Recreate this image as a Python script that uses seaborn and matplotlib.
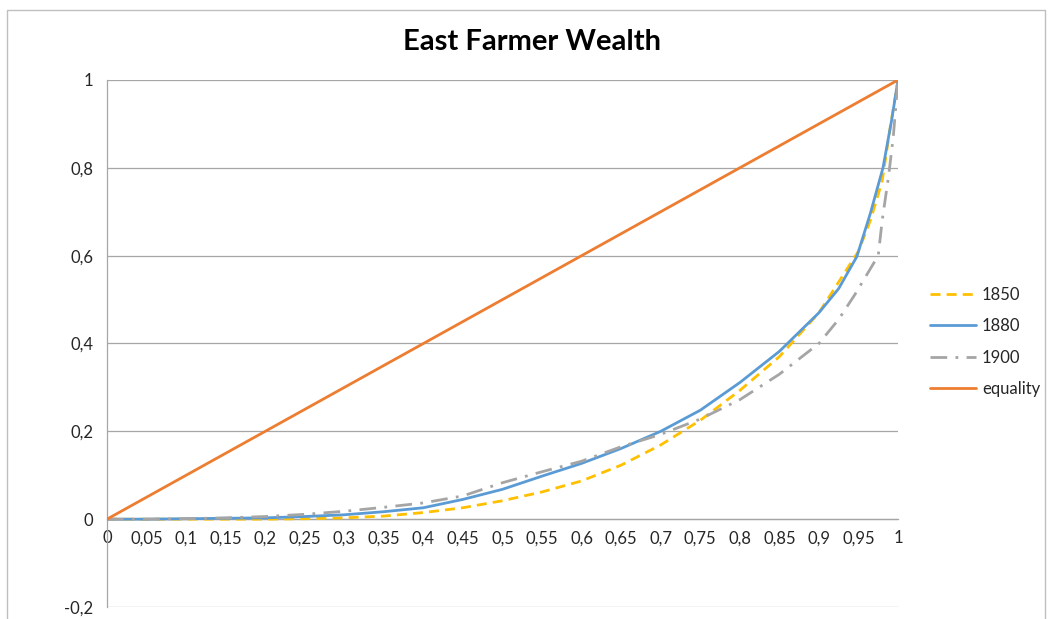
import matplotlib
matplotlib.use("Agg")
import matplotlib.pyplot as plt
import seaborn as sns
import pandas as pd
from matplotlib.patches import Rectangle

# ---- data ----
x_1850 = [0, 0.05, 0.1, 0.15, 0.2, 0.25, 0.3, 0.35, 0.4, 0.45, 0.5, 0.55, 0.6, 0.65,
          0.7, 0.75, 0.8, 0.85, 0.9, 0.925, 0.95, 0.965, 0.98, 0.99, 1.0]
y_1850 = [0, 0, 0, 0, 0, 0.001, 0.003, 0.007, 0.015, 0.026, 0.042, 0.062, 0.087, 0.123,
          0.169, 0.225, 0.293, 0.37, 0.47, 0.54, 0.61, 0.68, 0.77, 0.89, 1.0]

x_1880 = [0, 0.05, 0.1, 0.15, 0.2, 0.25, 0.3, 0.35, 0.4, 0.45, 0.5, 0.55, 0.6, 0.65,
          0.7, 0.75, 0.8, 0.85, 0.9, 0.925, 0.948, 0.965, 0.981, 0.992, 1.0]
y_1880 = [0, 0, 0.001, 0.002, 0.003, 0.006, 0.01, 0.017, 0.026, 0.045, 0.068, 0.098, 0.127,
          0.161, 0.2, 0.248, 0.311, 0.382, 0.47, 0.525, 0.598, 0.696, 0.8, 0.909, 1.0]

x_1900 = [0, 0.05, 0.1, 0.15, 0.2, 0.25, 0.3, 0.35, 0.4, 0.45, 0.5, 0.55, 0.6, 0.65,
          0.7, 0.75, 0.8, 0.85, 0.9, 0.925, 0.945, 0.96, 0.975, 0.98, 0.988, 0.994, 1.0]
y_1900 = [0, 0, 0.001, 0.003, 0.006, 0.011, 0.018, 0.027, 0.037, 0.053, 0.083, 0.108, 0.132,
          0.165, 0.193, 0.228, 0.272, 0.33, 0.4, 0.455, 0.51, 0.555, 0.6, 0.68, 0.78, 0.87, 1.0]

x_equality = [0, 1]
y_equality = [0, 1]

series_names = ["1850", "1880", "1900", "equality"]
series_colors = ["#FFC000", "#5B9BD5", "#A5A5A5", "#ED7D31"]

xtick_values = [i * 0.05 for i in range(21)]
xtick_labels = ["0", "0,05", "0,1", "0,15", "0,2", "0,25", "0,3", "0,35", "0,4", "0,45",
                "0,5", "0,55", "0,6", "0,65", "0,7", "0,75", "0,8", "0,85", "0,9", "0,95", "1"]
ytick_values = [-0.2, 0, 0.2, 0.4, 0.6, 0.8, 1.0]
ytick_labels = ["-0,2", "0", "0,2", "0,4", "0,6", "0,8", "1"]

title = "East Farmer Wealth"

# ---- style ----
sns.set_style("white")
plt.rcParams["font.family"] = ["Lato", "DejaVu Sans"]

fig = plt.figure(figsize=(10.5, 6.19), dpi=100)
W, H = 1050, 619
ax = fig.add_axes([107 / W, 1 - 607 / H, (898 - 107) / W, (607 - 80) / H])

grid_color = "#A6A6A6"

styles = [
    dict(linestyle=(0, (3.6, 2.2)), linewidth=2.0),
    dict(linestyle="-", linewidth=2.0),
    dict(linestyle=(0, (6, 3, 1, 3)), linewidth=2.0),
    dict(linestyle="-", linewidth=2.0),
]
xs = [x_1850, x_1880, x_1900, x_equality]
ys = [y_1850, y_1880, y_1900, y_equality]

for name, color, st, xv, yv in zip(series_names, series_colors, styles, xs, ys):
    df = pd.DataFrame({"x": xv, "y": yv})
    sns.lineplot(data=df, x="x", y="y", ax=ax, color=color, label=name,
                 estimator=None, sort=False, zorder=3, **st)

ax.set_xlim(0, 1)
ax.set_ylim(-0.2, 1)
ax.set_xticks(xtick_values)
ax.set_xticklabels(xtick_labels)
ax.set_yticks(ytick_values)
ax.set_yticklabels(ytick_labels)
ax.set_xlabel("")
ax.set_ylabel("")

ax.yaxis.grid(True, color=grid_color, linewidth=0.9, zorder=0)
ax.xaxis.grid(False)
ax.set_axisbelow(True)

for s in ["top", "right"]:
    ax.spines[s].set_visible(False)
ax.spines["bottom"].set_position(("data", 0))
ax.spines["bottom"].set_color(grid_color)
ax.spines["bottom"].set_linewidth(0.9)
ax.spines["left"].set_color(grid_color)
ax.spines["left"].set_linewidth(0.9)

ax.tick_params(axis="x", direction="out", length=5, width=0.9, color=grid_color,
               labelsize=12, pad=3, labelcolor="#262626")
ax.tick_params(axis="y", length=0, labelsize=12, pad=10, labelcolor="#262626")

leg = ax.legend(loc="center left", bbox_to_anchor=(1.022, 0.503), frameon=False,
                fontsize=12, handlelength=2.75, labelspacing=0.93, handletextpad=0.35)
for t in leg.get_texts():
    t.set_color("#262626")

fig.text(532 / W, 1 - 42 / H, title, ha="center", va="center", fontsize=21,
         fontweight="bold", color="black")

fig.patches.append(Rectangle((7 / W, -0.02), (1045 - 7) / W, 1 - 10 / H + 0.02,
                             transform=fig.transFigure, fill=False,
                             edgecolor="#BFBFBF", linewidth=1.0))

fig.savefig("out.png", dpi=100, facecolor="white")
